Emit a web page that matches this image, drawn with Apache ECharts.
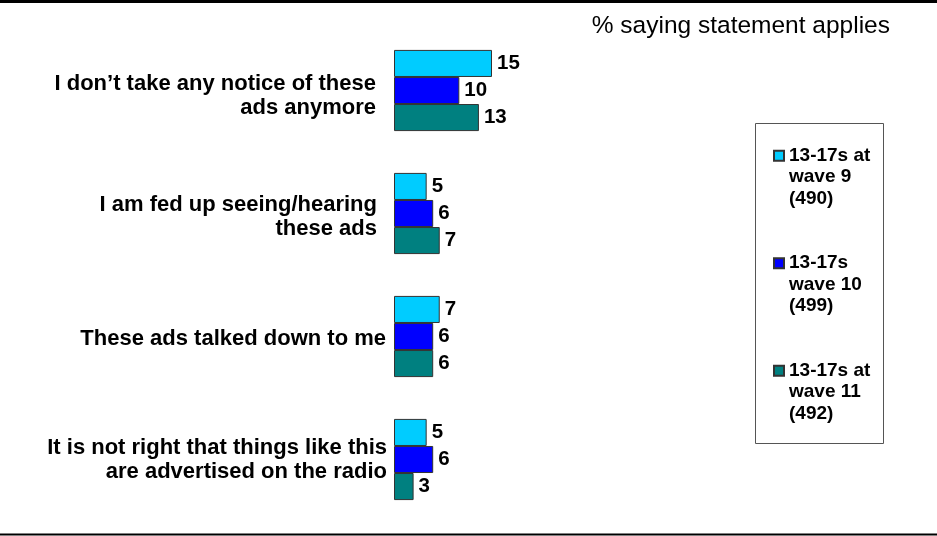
<!DOCTYPE html>
<html>
<head>
<meta charset="utf-8">
<title>% saying statement applies</title>
<script src="https://cdn.jsdelivr.net/npm/echarts@6/dist/echarts.min.js"></script>
<style>
  html, body { margin: 0; padding: 0; background: #ffffff; }
  #chart { width: 937px; height: 536px; }
</style>
</head>
<body>
<div id="chart"></div>
<script>
// Statements, top to bottom
const categories = [
  'I don\u2019t take any notice of these\nads anymore',
  'I am fed up seeing/hearing\nthese ads',
  'These ads talked down to me',
  'It is not right that things like this\nare advertised on the radio'
];

// Series names (sample sizes in brackets)
const seriesNames = [
  '13-17s at\nwave 9\n(490)',
  '13-17s\nwave 10\n(499)',
  '13-17s at\nwave 11\n(492)'
];

// % saying statement applies
const wave9 = [15, 5, 7, 5];
const wave10 = [10, 6, 6, 6];
const wave11 = [13, 7, 6, 3];

const colors = ['#00CCFF', '#0000FF', '#008080'];
const FONT = '"Liberation Sans", Arial, Helvetica, sans-serif';

// Per-row text box padding for the statement labels: [top, right]
const labelPad = [[10, 11], [7, 10], [4, 1], [0, 0]];

const chart = echarts.init(document.getElementById('chart'), null, { renderer: 'canvas' });

function barSeries(name, data, color) {
  return {
    name: name,
    type: 'bar',
    data: data,
    barGap: '0%',
    barCategoryGap: '34%',
    itemStyle: { color: color, borderColor: '#333333', borderWidth: 1 },
    label: {
      show: true,
      position: 'right',
      distance: 5,
      color: '#000',
      fontFamily: FONT,
      fontWeight: 'bold',
      fontSize: 20.5
    },
    emphasis: { disabled: true },
    animation: false
  };
}

const labelText = {
  color: '#000',
  fontFamily: FONT,
  fontWeight: 'bold',
  fontSize: 22,
  lineHeight: 24,
  align: 'right'
};
const richStyles = {};
labelPad.forEach((p, i) => {
  richStyles['r' + i] = Object.assign({ padding: [p[0], p[1], 0, 0] }, labelText);
});

chart.setOption({
  backgroundColor: '#ffffff',
  animation: false,
  title: {
    text: '% saying statement applies',
    right: 42,
    top: 9,
    textStyle: { fontFamily: FONT, fontWeight: 'normal', fontSize: 24.5, color: '#000' }
  },
  grid: { left: 394, top: 29, width: 130.67, height: 492, containLabel: false },
  xAxis: {
    type: 'value',
    min: 0,
    max: 20,
    show: false
  },
  yAxis: {
    type: 'category',
    data: categories,
    inverse: true,
    axisLine: { show: false },
    axisTick: { show: false },
    splitLine: { show: false },
    axisLabel: {
      interval: 0,
      margin: 7,
      align: 'right',
      formatter: (value, index) => '{r' + index + '|' + value + '}',
      rich: richStyles
    }
  },
  legend: {
    orient: 'vertical',
    left: 773,
    top: 102,
    padding: 0,
    itemGap: 0,
    itemWidth: 10,
    itemHeight: 10,
    icon: 'rect',
    selectedMode: false,
    data: seriesNames,
    // two leading blank lines keep each marker beside the first text line
    formatter: name => '\n\n' + name,
    textStyle: {
      fontFamily: FONT,
      fontWeight: 'bold',
      fontSize: 19,
      lineHeight: 21.5,
      color: '#000'
    }
  },
  graphic: [
    { type: 'rect', shape: { x: 0, y: 0, width: 937, height: 3 }, style: { fill: '#000' }, silent: true },
    { type: 'rect', shape: { x: 0, y: 533.5, width: 937, height: 2 }, style: { fill: '#000' }, silent: true },
    { type: 'rect', shape: { x: 755.5, y: 123.5, width: 128, height: 320 }, style: { fill: 'none', stroke: '#555', lineWidth: 1 }, silent: true, z: -1 }
  ],
  series: [
    barSeries(seriesNames[0], wave9, colors[0]),
    barSeries(seriesNames[1], wave10, colors[1]),
    barSeries(seriesNames[2], wave11, colors[2])
  ]
});
</script>
</body>
</html>
